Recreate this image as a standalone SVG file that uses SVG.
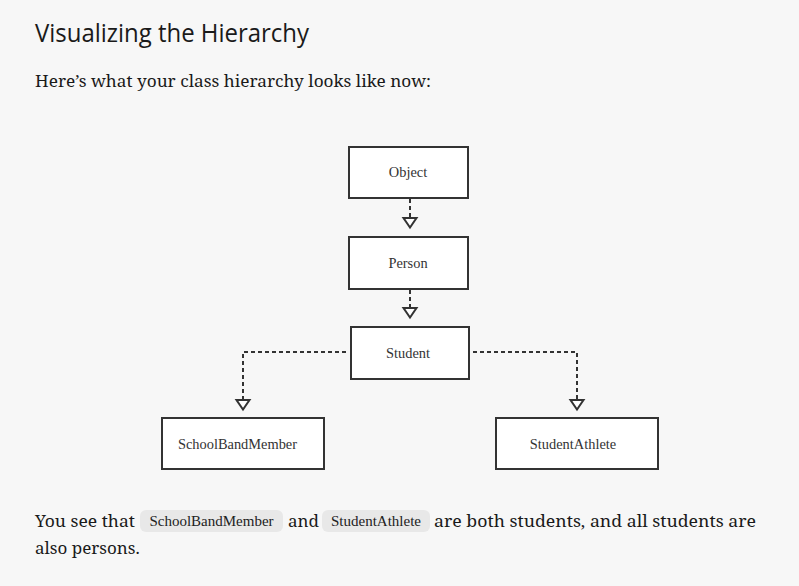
<svg xmlns="http://www.w3.org/2000/svg" width="799" height="586" viewBox="0 0 799 586">
<defs>
<style>
.bg{fill:#f7f7f7}
.box{fill:#ffffff;stroke:#333333;stroke-width:2}
.lbl{font-family:"Liberation Serif",serif;font-size:14.4px;fill:#333333;text-anchor:middle}
.conn{fill:none;stroke:#333333;stroke-width:2;stroke-dasharray:4 3}
.head{fill:#ffffff;stroke:#333333;stroke-width:2;stroke-linejoin:miter}
.title{font-family:"Open Sans","Noto Sans",sans-serif;font-size:25px;fill:#1a1a1a}
.para{font-family:"Noto Serif","DejaVu Serif","Liberation Serif",serif;font-size:17px;fill:#1a1a1a}
.pill{fill:#e8e8e8}
.code{font-family:"Liberation Serif",serif;font-size:15px;fill:#222222}
</style>
</defs>
<rect class="bg" x="0" y="0" width="799" height="586"/>
<text class="title" x="35" y="42" textLength="274" lengthAdjust="spacingAndGlyphs">Visualizing the Hierarchy</text>
<text class="para" x="35" y="87" textLength="396" lengthAdjust="spacingAndGlyphs">Here’s what your class hierarchy looks like now:</text>

<g id="connectors">
<path class="conn" d="M410 199 V218"/>
<path class="head" d="M403.5 218 H416.5 L410 227.5 Z"/>
<path class="conn" d="M410 290 V308"/>
<path class="head" d="M403.5 308 H416.5 L410 317.5 Z"/>
<path class="conn" d="M346 352 H243 V400"/>
<path class="head" d="M236.5 400 H249.5 L243 409.5 Z"/>
<path class="conn" d="M473 352 H577 V400"/>
<path class="head" d="M570.5 400 H583.5 L577 409.5 Z"/>
</g>

<g id="node-object">
<rect class="box" x="349" y="147" width="119" height="51"/>
<text class="lbl" x="408" y="177">Object</text>
</g>
<g id="node-person">
<rect class="box" x="349" y="237" width="119" height="52"/>
<text class="lbl" x="408" y="268">Person</text>
</g>
<g id="node-student">
<rect class="box" x="351" y="327" width="118" height="52"/>
<text class="lbl" x="408" y="358">Student</text>
</g>
<g id="node-schoolbandmember">
<rect class="box" x="162" y="418" width="162" height="51"/>
<text class="lbl" x="237.5" y="449">SchoolBandMember</text>
</g>
<g id="node-studentathlete">
<rect class="box" x="496" y="418" width="162" height="51"/>
<text class="lbl" x="573" y="449">StudentAthlete</text>
</g>

<rect class="pill" x="140" y="510" width="143" height="22" rx="6"/>
<rect class="pill" x="322" y="510" width="108" height="22" rx="6"/>
<text class="para" x="35" y="527" textLength="100" lengthAdjust="spacingAndGlyphs">You see that</text>
<text class="code" x="211.5" y="526" text-anchor="middle">SchoolBandMember</text>
<text class="para" x="288" y="527">and</text>
<text class="code" x="376" y="526" text-anchor="middle">StudentAthlete</text>
<text class="para" x="434" y="527" textLength="322" lengthAdjust="spacingAndGlyphs">are both students, and all students are</text>
<text class="para" x="35" y="554">also persons.</text>
</svg>
